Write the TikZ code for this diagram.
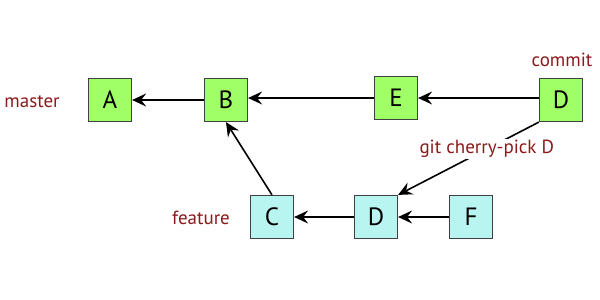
\documentclass[tikz,border=0pt]{standalone}
\usepackage{fontspec}
\setmainfont{PT Sans}
\usetikzlibrary{arrows.meta}
\definecolor{masterfill}{RGB}{160,255,102}
\definecolor{featurefill}{RGB}{184,244,240}
\definecolor{labelred}{RGB}{139,26,26}
\begin{document}
\begin{tikzpicture}[x=1pt,y=-1pt,line width=1.6pt,>={Stealth[length=14pt,width=13pt,inset=5pt]},
  commit/.style={draw=black!75,line width=1.2pt,minimum size=43pt,inner sep=0pt,
    font=\fontsize{25}{27}\selectfont},
  branchlabel/.style={text=labelred,font=\fontsize{19}{21}\selectfont}]
  \useasboundingbox (0,0) rectangle (600,300);
  % master line: A <- B <- E <- D
  \node[commit,fill=masterfill] (A) at (110,100) {A};
  \node[commit,fill=masterfill] (B) at (226,100) {B};
  \node[commit,fill=masterfill] (E) at (396,98) {E};
  \node[commit,fill=masterfill] (Dm) at (561,100) {D};
  % feature line: C <- D <- F
  \node[commit,fill=featurefill] (C) at (272,217) {C};
  \node[commit,fill=featurefill] (Df) at (376,217) {D};
  \node[commit,fill=featurefill] (F) at (471,217) {F};
  % branch labels
  \node[branchlabel] (master) at (32,102) {master};
  \node[branchlabel] (commitlbl) at (562,60) {commit};
  \node[branchlabel] (feature) at (201,218) {feature};
  % connectors, kept level along each branch
  \draw[->] (B) -- (A);
  \draw[->] (E.west) -- (E.west -| B.east);
  \draw[->] (Dm.west |- E.west) -- (E.east);
  \draw[->] (C.north) -- (B.south);
  \draw[->] (Df) -- (C);
  \draw[->] (F) -- (Df);
  \draw[->] (Dm.south west) -- node[branchlabel,fill=white,inner sep=1pt,pos=0.37] (pick) {git cherry-pick D} (Df.north east);
\end{tikzpicture}
\end{document}
